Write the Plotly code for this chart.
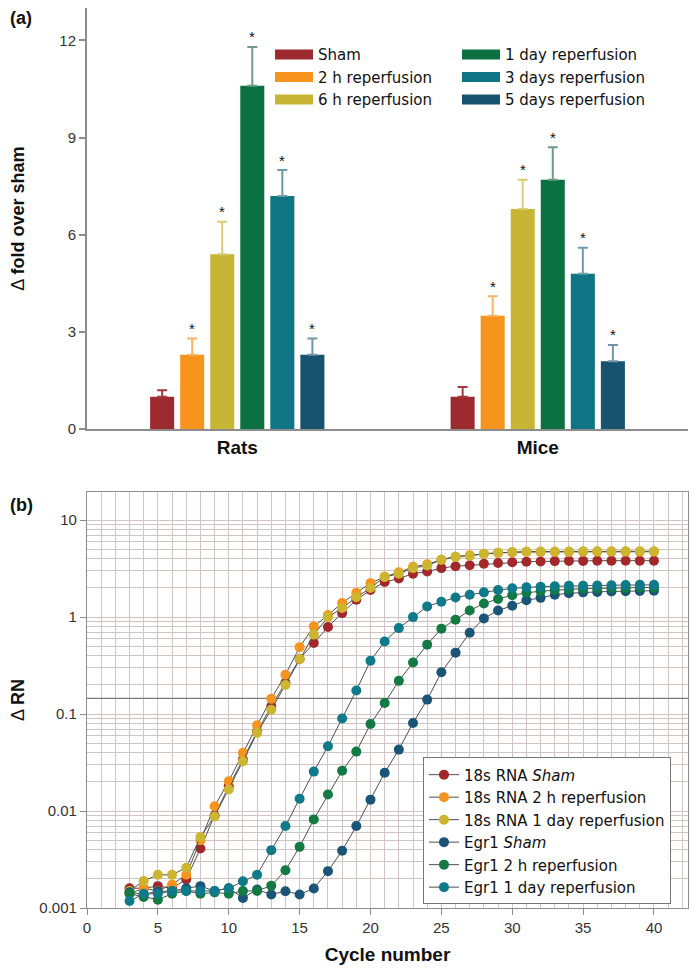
import plotly.graph_objects as go

# ---------------- Panel (a) data ----------------
groups = ["Rats", "Mice"]
conditions = ["Sham", "2 h reperfusion", "6 h reperfusion",
              "1 day reperfusion", "3 days reperfusion", "5 days reperfusion"]
bar_colors = ["#9d2a2f", "#f7941d", "#c9b535", "#0b7143", "#0f7585", "#17526f"]
err_colors = ["#a8383c", "#f6b466", "#d9cd72", "#6f9a82", "#6a9cab", "#7393aa"]
fold_rats = [1.0, 2.3, 5.4, 10.6, 7.2, 2.3]
fold_mice = [1.0, 3.5, 6.8, 7.7, 4.8, 2.1]
err_rats = [0.2, 0.5, 1.0, 1.2, 0.8, 0.5]
err_mice = [0.3, 0.6, 0.9, 1.0, 0.8, 0.5]
signif_rats = [False, True, True, True, True, True]
signif_mice = [False, True, True, True, True, True]
y_ticks_a = [0, 3, 6, 9, 12]

# ---------------- Panel (b) data ----------------
cycles = list(range(3, 41))
rn_18s_sham = [0.0016, 0.0016, 0.00168, 0.0016, 0.00197, 0.0041, 0.009, 0.018, 0.034, 0.066,
               0.12, 0.21, 0.37, 0.54, 0.79, 1.1, 1.51, 1.9, 2.3, 2.5,
               2.8, 2.95, 3.2, 3.35, 3.42, 3.55, 3.62, 3.68, 3.72, 3.75,
               3.78, 3.8, 3.8, 3.82, 3.82, 3.82, 3.82, 3.82]
rn_18s_2h = [0.0014, 0.0016, 0.0015, 0.00175, 0.0022, 0.005, 0.0112, 0.0203, 0.0398, 0.0767,
             0.1435, 0.255, 0.49, 0.80, 1.05, 1.40, 1.78, 2.24, 2.6, 2.9,
             3.3, 3.5, 3.9, 4.2, 4.35, 4.5, 4.6, 4.65, 4.7, 4.7,
             4.7, 4.7, 4.72, 4.72, 4.72, 4.72, 4.72, 4.72]
rn_18s_1d = [0.0015, 0.0019, 0.0022, 0.0022, 0.0026, 0.0054, 0.0088, 0.0167, 0.0326, 0.064,
             0.111, 0.2, 0.37, 0.66, 1.0, 1.24, 1.6, 2.0, 2.6, 2.8,
             3.2, 3.4, 3.9, 4.2, 4.3, 4.5, 4.6, 4.7, 4.75, 4.75,
             4.75, 4.75, 4.77, 4.77, 4.77, 4.77, 4.77, 4.77]
rn_egr1_sham = [0.00145, 0.00138, 0.00149, 0.00149, 0.0016, 0.00168, 0.0015, 0.0016, 0.00127, 0.00155,
                0.00138, 0.00149, 0.00138, 0.00159, 0.0024, 0.0039, 0.007, 0.0131, 0.0248, 0.043,
                0.081, 0.141, 0.27, 0.43, 0.69, 0.97, 1.17, 1.31, 1.49, 1.58,
                1.70, 1.76, 1.80, 1.82, 1.84, 1.85, 1.86, 1.87]
rn_egr1_2h = [0.0014, 0.0013, 0.00122, 0.0014, 0.0015, 0.0014, 0.00145, 0.0014, 0.0015, 0.0015,
              0.0017, 0.00245, 0.00427, 0.0082, 0.0148, 0.026, 0.041, 0.079, 0.13, 0.22,
              0.34, 0.52, 0.76, 0.94, 1.17, 1.38, 1.54, 1.68, 1.78, 1.85,
              1.9, 1.93, 1.96, 1.98, 2.0, 2.0, 2.02, 2.02]
rn_egr1_1d = [0.00118, 0.0014, 0.0014, 0.0015, 0.0015, 0.0015, 0.0015, 0.0016, 0.00189, 0.0022,
              0.00395, 0.007, 0.0134, 0.0255, 0.0466, 0.09, 0.175, 0.355, 0.56, 0.77,
              1.0, 1.29, 1.44, 1.59, 1.7, 1.8, 1.9, 1.98, 2.03, 2.06,
              2.08, 2.1, 2.1, 2.12, 2.13, 2.14, 2.15, 2.15]
series_b_names = ["18s RNA <i>Sham</i>", "18s RNA 2 h reperfusion", "18s RNA 1 day reperfusion",
                  "Egr1 <i>Sham</i>", "Egr1 2 h reperfusion", "Egr1 1 day reperfusion"]
series_b_colors = ["#a3282c", "#f7941d", "#cdb62f", "#1a5577", "#137a43", "#0f7a8a"]
series_b_values = [rn_18s_sham, rn_18s_2h, rn_18s_1d, rn_egr1_sham, rn_egr1_2h, rn_egr1_1d]
threshold = 0.145
x_ticks_b = [0, 5, 10, 15, 20, 25, 30, 35, 40]
y_ticks_b = [0.001, 0.01, 0.1, 1, 10]
y_ticktext_b = ["0.001", "0.01", "0.1", "1", "10"]

# ---------------- Layout geometry ----------------
# (page body has an 8 px default margin, compensated in the figure margins)
W, H = 697, 980
M_L, M_R, M_T, M_B = 79, 17, 0, 80
BARGAP, BARGROUPGAP = 0.4, 0.2
FONT = "Liberation Sans, Arial, Helvetica, sans-serif"
LEG_FONT = "DejaVu Sans, Verdana, sans-serif"
GRID = "#d0c4c4"
AXIS = "#8c8c8c"

fig = go.Figure()

# Bars
for i, cond in enumerate(conditions):
    fig.add_trace(go.Bar(
        x=groups, y=[fold_rats[i], fold_mice[i]],
        name=cond, marker=dict(color=bar_colors[i], line=dict(width=0)),
        error_y=dict(type="data", symmetric=False,
                     array=[err_rats[i], err_mice[i]], arrayminus=[0, 0],
                     color=err_colors[i], thickness=2, width=5),
        showlegend=False, xaxis="x", yaxis="y"))

# Legend entries for panel (a) (two columns)
for i, cond in enumerate(conditions):
    fig.add_trace(go.Scatter(
        x=[None], y=[None], mode="lines", name=cond,
        line=dict(color=bar_colors[i], width=14),
        legend="legend" if i < 3 else "legend2",
        xaxis="x", yaxis="y", hoverinfo="skip"))

# Asterisks above error bars
plot_w = W - M_L - M_R
pitch = plot_w / len(groups) * (1 - BARGAP) / len(conditions)
for i in range(len(conditions)):
    for g, vals, errs, sig in [(groups[0], fold_rats, err_rats, signif_rats),
                               (groups[1], fold_mice, err_mice, signif_mice)]:
        if sig[i]:
            fig.add_annotation(x=g, y=vals[i] + errs[i], xref="x", yref="y",
                               text="*", showarrow=False,
                               xshift=(i - (len(conditions) - 1) / 2) * pitch,
                               yshift=10, font=dict(family=FONT, size=15, color="#111"))

# Panel (b) threshold line
fig.add_trace(go.Scatter(x=[0, 42.4], y=[threshold, threshold], mode="lines",
                         line=dict(color="#7a7a7a", width=1.2), showlegend=False,
                         xaxis="x2", yaxis="y2", hoverinfo="skip"))

# Panel (b) amplification curves
for name, col, vals in zip(series_b_names, series_b_colors, series_b_values):
    fig.add_trace(go.Scatter(
        x=cycles, y=vals, mode="lines+markers", name=name,
        line=dict(color="#4f4f4f", width=1),
        marker=dict(color=col, size=10, line=dict(width=0)),
        legend="legend3", xaxis="x2", yaxis="y2"))

minor_y = [m * 10 ** e for e in range(-3, 2) for m in range(2, 10)]

fig.update_layout(
    width=W, height=H,
    margin=dict(l=M_L, r=M_R, t=M_T, b=M_B, autoexpand=False),
    paper_bgcolor="white", plot_bgcolor="white",
    font=dict(family=FONT, size=15, color="#222"),
    barmode="group", bargap=BARGAP, bargroupgap=BARGROUPGAP,
    xaxis=dict(domain=[0, 1], anchor="y", type="category", range=[-0.5, 1.5],
               automargin=False,
               showline=True, linecolor=AXIS, linewidth=2, ticks="",
               tickfont=dict(family=FONT, size=19, color="#111"),
               tickprefix="<b>", ticksuffix="</b>", showgrid=False, zeroline=False),
    yaxis=dict(domain=[0.532, 1], anchor="x", range=[0, 13], automargin=False,
               tickvals=y_ticks_a, ticks="outside", ticklen=6, tickcolor=AXIS, tickwidth=1.5,
               showline=True, linecolor=AXIS, linewidth=2, showgrid=False, zeroline=False,
               tickfont=dict(family=FONT, size=15, color="#333"),
               title=dict(text="Δ <b>fold over sham</b>", standoff=30,
                          font=dict(family=FONT, size=18, color="#111"))),
    xaxis2=dict(domain=[0, 1], anchor="y2", range=[0, 42.4], automargin=False,
                tickmode="array", tickvals=x_ticks_b, ticks="outside", ticklen=6,
                tickcolor=AXIS, showline=True, mirror=True, linecolor=AXIS, linewidth=1.2,
                showgrid=True, gridcolor=GRID, gridwidth=1, zeroline=False,
                minor=dict(dtick=1, tick0=0, showgrid=True, gridcolor=GRID, gridwidth=1, ticks=""),
                tickfont=dict(family=FONT, size=15, color="#333"),
                title=dict(text="<b>Cycle number</b>", standoff=12,
                           font=dict(family=FONT, size=19, color="#111"))),
    yaxis2=dict(domain=[0, 0.4622], anchor="x2", type="log", range=[-3, 1.29], automargin=False,
                tickmode="array", tickvals=y_ticks_b, ticktext=y_ticktext_b,
                ticks="outside", ticklen=6, tickcolor=AXIS,
                showline=True, mirror=True, linecolor=AXIS, linewidth=1.2,
                showgrid=True, gridcolor=GRID, gridwidth=1, zeroline=False,
                minor=dict(tickmode="array", tickvals=minor_y, showgrid=True,
                           gridcolor=GRID, gridwidth=1, ticks=""),
                tickfont=dict(family=FONT, size=15, color="#333"),
                title=dict(text="Δ <b>RN</b>", standoff=11,
                           font=dict(family=FONT, size=18, color="#111"))),
    legend=dict(x=0.3045, y=0.9665, xanchor="left", yanchor="top",
                bgcolor="rgba(0,0,0,0)", font=dict(family=LEG_FONT, size=15, color="#111"),
                itemwidth=38, tracegroupgap=0),
    legend2=dict(x=0.6156, y=0.9665, xanchor="left", yanchor="top",
                 bgcolor="rgba(0,0,0,0)", font=dict(family=LEG_FONT, size=15, color="#111"),
                 itemwidth=38, tracegroupgap=0),
    legend3=dict(x=0.559, y=0.004, xanchor="left", yanchor="bottom",
                 bgcolor="white", bordercolor="#777", borderwidth=1,
                 font=dict(family=LEG_FONT, size=15, color="#111"), tracegroupgap=0),
)

label_x = -M_L / plot_w
fig.add_annotation(text="<b>(a)</b>", x=label_x, y=0.989, xref="paper", yref="paper",
                   showarrow=False, xanchor="left", yanchor="middle",
                   font=dict(family=FONT, size=18, color="#111"))
fig.add_annotation(text="<b>(b)</b>", x=label_x, y=0.4478, xref="paper", yref="paper",
                   showarrow=False, xanchor="left", yanchor="middle",
                   font=dict(family=FONT, size=18, color="#111"))

fig.write_html("out.html")
